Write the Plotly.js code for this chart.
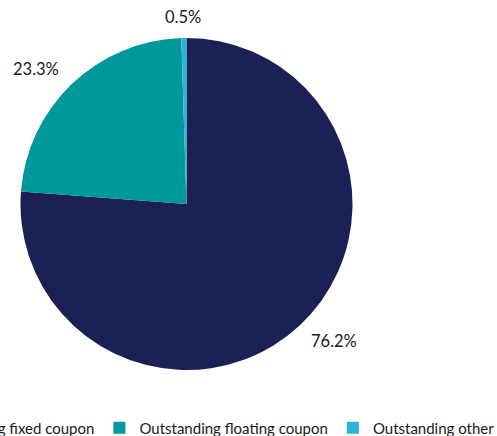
<!DOCTYPE html>
<html><head><meta charset="utf-8">
<script src="https://cdn.plot.ly/plotly-3.0.1.min.js"></script>
<style>html,body{margin:0;padding:0;overflow:hidden;background:#fff;width:497px;height:436px}
#chart{position:absolute;left:-150px;top:0;width:700px;height:436px}</style>
</head><body><div id="chart"></div>
<script>
const categories = ["Outstanding fixed coupon", "Outstanding floating coupon", "Outstanding other"];
const shares = [76.2, 23.3, 0.5];
const colors = ["#1B2155", "#00989A", "#29B5D8"];

const OFF = 150;           // div shifted left so the legend runs off the left edge
const W = 700, H = 436;
const cx = 186.5 + OFF, cy = 204, r = 166;
const FONT = "Lato, 'Open Sans', sans-serif";

const total = shares.reduce((a, b) => a + b, 0);
let acc = 0;
const annotations = shares.map((v) => {
  const mid = (acc + v / 2) / total * 2 * Math.PI;
  acc += v;
  const px = cx + 217 * Math.sin(mid);
  const py = cy - 187 * Math.cos(mid);
  return {x: px / W, y: 1 - py / H, xref: "paper", yref: "paper",
    text: v.toFixed(1) + "%", showarrow: false, xanchor: "center", yanchor: "middle",
    font: {family: FONT, size: 16.5, color: "#1a1a1a"}};
});

const data = [{
  type: "pie",
  labels: categories,
  values: shares,
  sort: false,
  direction: "clockwise",
  rotation: 0,
  marker: {colors: colors, line: {width: 0}},
  textinfo: "none",
  hoverinfo: "label+percent",
  domain: {x: [(cx - r) / W, (cx + r) / W], y: [1 - (cy + r) / H, 1 - (cy - r) / H]}
}];
const layout = {
  width: W, height: H,
  margin: {l: 0, r: 0, t: 0, b: 0, autoexpand: false},
  paper_bgcolor: "#fff",
  showlegend: true,
  annotations: annotations,
  legend: {orientation: "h", x: (OFF - 116) / W, xanchor: "left", y: 1 - 428 / H, yanchor: "middle",
    font: {family: FONT, size: 15, color: "#1a1a1a"},
    itemwidth: 30, traceorder: "normal"},
  font: {family: FONT}
};
Plotly.newPlot("chart", data, layout, {displayModeBar: false, staticPlot: true});
</script></body></html>
